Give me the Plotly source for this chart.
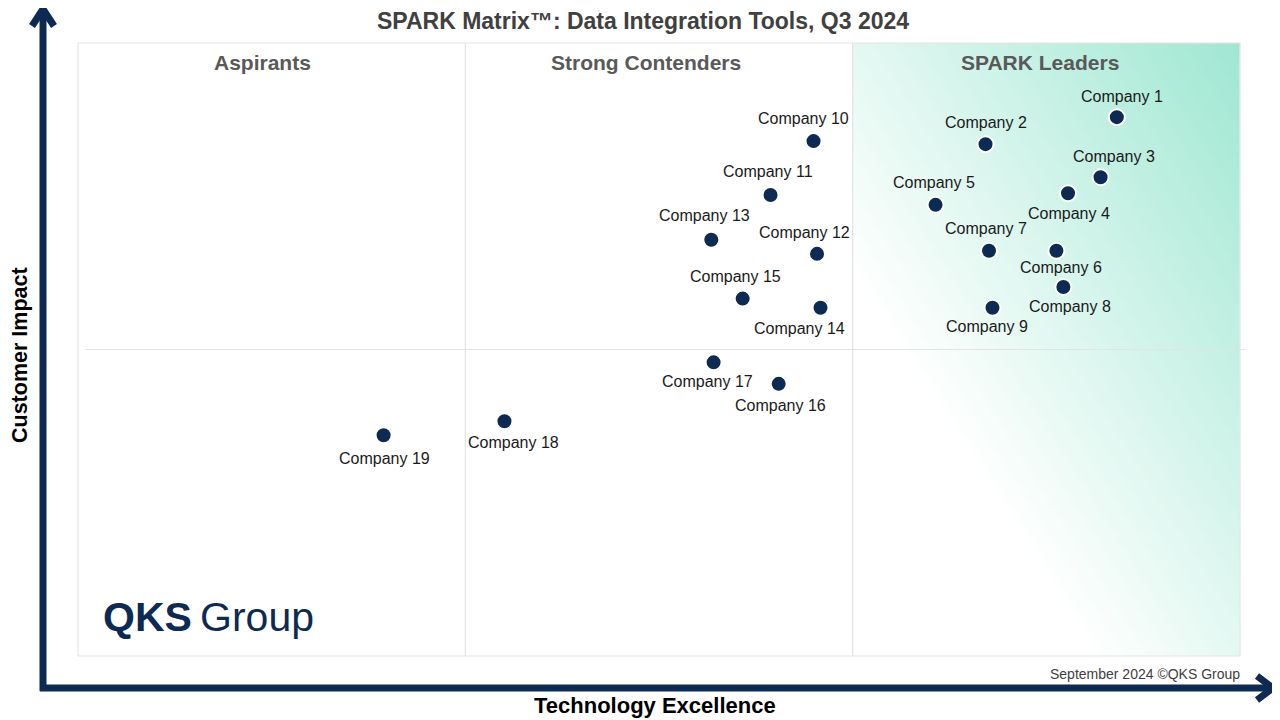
import numpy as np
import plotly.graph_objects as go

# company scores (technology excellence, customer impact)
companies = ["Company %d" % i for i in range(1, 20)]
tech_excellence = [89.4, 78.1, 88.0, 85.2, 73.8, 84.2, 78.4, 84.8, 78.7, 63.3,
                   59.6, 63.6, 54.5, 63.9, 57.2, 60.3, 54.7, 36.7, 26.3]
customer_impact = [87.9, 83.5, 78.1, 75.5, 73.6, 66.1, 66.1, 60.2, 56.8, 84.0,
                   75.2, 65.6, 67.9, 56.8, 58.3, 44.4, 47.9, 38.3, 36.0]

quadrants = ["Aspirants", "Strong Contenders", "SPARK Leaders"]

# label offsets in pixels (dx, dy) from each marker
label_dx = [5, 0, 13, 1, -2, 5, -3, 7, -5, -10, -3, -13, -7, -21, -7, 2, -6, 9, 1]
label_dy = [21, 22, 21, -20, 22, -17, 22, -20, -19, 23, 24, 21, 24, -21, 22, -22, -19, -21, -23]
# quadrant title centres (page px)
quad_px = [262, 646, 1040]

NAVY = "#0c2a52"
FONT = "Arial, Liberation Sans, sans-serif"

# page has an 8px body margin, so the figure is a bit smaller than the window
OFF = 8
W, H = 1280 - OFF, 720 - OFF
# plot area in page pixels
L, R, T, B = 78, 1240, 43, 656


def px(x, y):
    # page pixel -> paper coords
    return (x - L) / (R - L), (B - y) / (B - T)


fig = go.Figure()

# gradient background for leaders quadrant
nx, ny = 120, 160
xe = np.linspace(100 * 2 / 3, 100, nx + 1)
ye = np.linspace(0, 100, ny + 1)
xc = (xe[:-1] + xe[1:]) / 2
yc = (ye[:-1] + ye[1:]) / 2
u = (xc - 100 * 2 / 3) / (100 / 3)
v = yc / 100
zz = np.clip((u[None, :] + v[:, None] - 0.62) / 1.38, 0, 1)
fig.add_trace(go.Heatmap(x=xe, y=ye, z=zz, showscale=False, hoverinfo="skip",
                         colorscale=[[0, "#ffffff"], [1, "#9fe7d2"]], zmin=0, zmax=1))

fig.add_trace(go.Scatter(
    x=tech_excellence, y=customer_impact, mode="markers", text=companies,
    hoverinfo="text",
    marker=dict(size=16, color=NAVY, line=dict(color="white", width=2)),
    showlegend=False,
))

for name, xv, yv, dx, dy in zip(companies, tech_excellence, customer_impact, label_dx, label_dy):
    fig.add_annotation(x=xv, y=yv, text=name, showarrow=False, xshift=dx, yshift=dy,
                       xanchor="center", yanchor="middle",
                       font=dict(family=FONT, size=16, color="#1a1a1a"))

# quadrant titles
for q, qx in zip(quadrants, quad_px):
    fig.add_annotation(x=px(qx, 0)[0], y=px(0, 62)[1], xref="paper", yref="paper", text="<b>%s</b>" % q,
                       showarrow=False, xanchor="center", yanchor="middle",
                       font=dict(family=FONT, size=21, color="#595959"))

grid = "#e3e3e3"
shapes = [
    dict(type="rect", xref="paper", yref="paper", x0=0, x1=1, y0=0, y1=1,
         line=dict(color=grid, width=1.2), layer="above"),
    dict(type="line", x0=100 / 3, x1=100 / 3, y0=0, y1=100, line=dict(color=grid, width=1.2), layer="above"),
    dict(type="line", x0=200 / 3, x1=200 / 3, y0=0, y1=100, line=dict(color=grid, width=1.2), layer="above"),
    dict(type="line", xref="paper", x0=px(85, 0)[0], x1=px(1245, 0)[0], y0=50, y1=50,
         line=dict(color=grid, width=1.2), layer="above"),
]

# axis arrows
ax0, ay0 = px(43, 691)
ax1, ay1 = px(43, 10)
shapes.append(dict(type="line", xref="paper", yref="paper", x0=ax0, y0=ay0, x1=ax1, y1=ay1,
                   line=dict(color=NAVY, width=7)))
a, b = px(32, 26)
c, d = px(54, 26)
shapes.append(dict(type="path", xref="paper", yref="paper",
                   path="M %f %f L %f %f L %f %f" % (a, b, ax1, px(43, 9)[1], c, d),
                   line=dict(color=NAVY, width=7)))
hx0, hy0 = px(40, 688)
hx1, hy1 = px(1271, 688)
shapes.append(dict(type="line", xref="paper", yref="paper", x0=hx0, y0=hy0, x1=hx1, y1=hy1,
                   line=dict(color=NAVY, width=7)))
a, b = px(1257, 676)
c, d = px(1257, 700)
shapes.append(dict(type="path", xref="paper", yref="paper",
                   path="M %f %f L %f %f L %f %f" % (a, b, px(1273, 688)[0], hy1, c, d),
                   line=dict(color=NAVY, width=7)))

fig.update_layout(shapes=shapes)

# axis titles and other texts
xt, yt = px(20, 355)
fig.add_annotation(x=xt, y=yt, xref="paper", yref="paper", text="<b>Customer Impact</b>",
                   textangle=-90, showarrow=False, xanchor="center", yanchor="middle",
                   font=dict(family=FONT, size=21.5, color="black"))
xt, yt = px(655, 705)
fig.add_annotation(x=xt, y=yt, xref="paper", yref="paper", text="<b>Technology Excellence</b>",
                   showarrow=False, xanchor="center", yanchor="middle",
                   font=dict(family=FONT, size=22, color="black"))
xt, yt = px(1242, 674)
fig.add_annotation(x=xt, y=yt, xref="paper", yref="paper", text="September 2024 ©QKS Group",
                   xanchor="right", yanchor="middle", showarrow=False,
                   font=dict(family=FONT, size=14, color="#404040"))
xt, yt = px(101, 617)
fig.add_annotation(x=xt, y=yt, xref="paper", yref="paper", text="<b>QKS</b>\u2009Group",
                   xanchor="left", yanchor="middle", showarrow=False,
                   font=dict(family=FONT, size=41, color=NAVY))

fig.update_layout(
    title=dict(text="<b>SPARK Matrix™: Data Integration Tools, Q3 2024</b>",
               x=(643 - OFF) / W, xanchor="center", y=1 - (21 - OFF) / H, yanchor="middle",
               font=dict(family=FONT, size=23, color="#404040")),
    width=W, height=H,
    margin=dict(l=L - OFF, r=W - (R - OFF), t=T - OFF, b=H - (B - OFF)),
    paper_bgcolor="white", plot_bgcolor="white",
    xaxis=dict(range=[0, 100], visible=False, fixedrange=True),
    yaxis=dict(range=[0, 100], visible=False, fixedrange=True),
)

fig.write_html("out.html")
